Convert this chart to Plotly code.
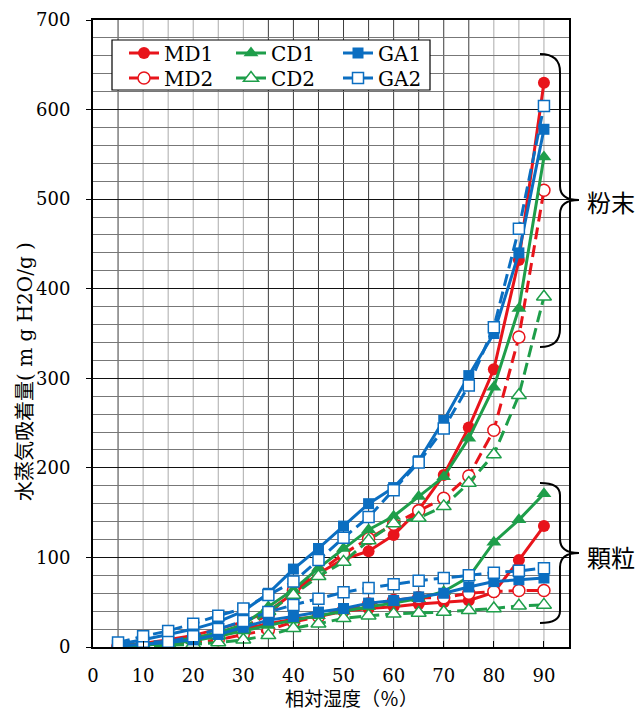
import plotly.graph_objects as go

# ---------------- data ----------------
rh = [5, 10, 15, 20, 25, 30, 35, 40, 45, 50, 55, 60, 65, 70, 75, 80, 85, 90]

# powder (粉末)
md1_powder = [2, 4, 8, 13, 20, 28, 40, 60, 82, 98, 107, 125, 153, 192, 245, 310, 432, 630]
md2_powder = [1, 3, 5, 9, 14, 22, 36, 63, 83, 104, 121, 137, 152, 166, 191, 242, 346, 510]
cd1_powder = [1, 3, 6, 10, 16, 25, 45, 64, 88, 110, 131, 146, 168, 190, 233, 290, 378, 547]
cd2_powder = [1, 2, 4, 8, 13, 20, 40, 58, 79, 95, 119, 138, 144, 157, 183, 215, 281, 391]
ga1_powder = [3, 8, 14, 20, 28, 40, 60, 87, 110, 135, 160, 178, 208, 253, 303, 350, 440, 578]
ga2_powder = [5, 12, 18, 26, 35, 43, 58, 73, 97, 122, 145, 175, 206, 244, 292, 357, 467, 604]

# granule (顆粒)
md1_granule = [1, 3, 5, 9, 14, 20, 26, 31, 34, 40, 43, 45, 48, 50, 52, 61, 97, 135]
md2_granule = [1, 2, 3, 5, 8, 14, 19, 28, 34, 41, 48, 52, 55, 55, 60, 62, 63, 63]
cd1_granule = [0, 2, 4, 7, 12, 18, 24, 30, 35, 40, 45, 49, 54, 62, 78, 117, 142, 171]
cd2_granule = [0, 1, 2, 3, 5, 8, 13, 21, 26, 32, 35, 37, 38, 39, 41, 43, 46, 47]
ga1_granule = [1, 3, 5, 8, 14, 22, 30, 34, 39, 43, 49, 52, 56, 60, 67, 73, 75, 77]
ga2_granule = [1, 6, 6, 12, 20, 29, 39, 47, 54, 61, 66, 70, 74, 77, 80, 83, 85, 88]

x_ticks = [0, 10, 20, 30, 40, 50, 60, 70, 80, 90]
y_ticks = [0, 100, 200, 300, 400, 500, 600, 700]

# ---------------- styling ----------------
RED, GREEN, BLUE = "#E8141B", "#1E9E4A", "#0B6EC1"
SERIF = "DejaVu Serif"
JP = "Noto Sans CJK JP"

series = [
    ("MD1", md1_powder, md1_granule, RED, "circle", "solid", True, 12, "legend"),
    ("MD2", md2_powder, md2_granule, RED, "circle", "12px,6px", False, 12, "legend2"),
    ("CD1", cd1_powder, cd1_granule, GREEN, "triangle-up", "solid", True, 13, "legend"),
    ("CD2", cd2_powder, cd2_granule, GREEN, "triangle-up", "12px,6px", False, 13, "legend2"),
    ("GA1", ga1_powder, ga1_granule, BLUE, "square", "solid", True, 11, "legend"),
    ("GA2", ga2_powder, ga2_granule, BLUE, "square", "12px,6px", False, 11, "legend2"),
]

fig = go.Figure()
for name, pw, gr, col, sym, dash, filled, msize, lg in series:
    marker = dict(symbol=sym, size=msize, color=col if filled else "white",
                  line=dict(color=col, width=0 if filled else 1.5))
    for i, ys in enumerate([gr, pw]):
        fig.add_trace(go.Scatter(
            x=rh, y=ys, mode="lines+markers", name=name,
            line=dict(color=col, width=3, dash=dash),
            marker=marker, legendgroup=name, showlegend=(i == 1), legend=lg,
        ))

# page offset (body margin) and plot frame in page pixels
OFF = 8
W, H = 644 - OFF, 712 - OFF
L, R, T, B = 93, 569, 20, 647
def px(v):
    return (v - L) / (R - L)
def py(v):
    return (B - v) / (B - T)

shapes = []
# vertical gridlines
for xv in range(5, 95, 5):
    dark = (xv == 5) or (35 <= xv <= 75)
    shapes.append(dict(type="line", xref="x", yref="y", x0=xv, x1=xv, y0=0, y1=700,
                       line=dict(color="#3c3c3c" if dark else "#ababab", width=1),
                       layer="below"))

# legend box
shapes.append(dict(type="rect", xref="paper", yref="paper",
                   x0=px(112), x1=px(430), y0=py(40), y1=py(90),
                   line=dict(color="black", width=1.2), fillcolor="white", layer="above"))

def brace(top, tip, bot, xe=540, xv=560, xt=579, r=18):
    pts = [
        f"M {px(xe)},{py(top)}",
        f"Q {px(xv)},{py(top)} {px(xv)},{py(top + r)}",
        f"L {px(xv)},{py(tip - 14)}",
        f"Q {px(xv)},{py(tip)} {px(xt)},{py(tip)}",
        f"Q {px(xv)},{py(tip)} {px(xv)},{py(tip + 14)}",
        f"L {px(xv)},{py(bot - r)}",
        f"Q {px(xv)},{py(bot)} {px(xe)},{py(bot)}",
    ]
    return dict(type="path", xref="paper", yref="paper", path=" ".join(pts),
                line=dict(color="black", width=2))

shapes.append(brace(54, 200, 347))
shapes.append(brace(483, 553, 623, r=12))

def note(text, x, y, size, angle=0, family=JP):
    return dict(text=text, x=px(x), y=py(y), xref="paper", yref="paper",
                xanchor="center", yanchor="middle", textangle=angle,
                showarrow=False, font=dict(family=family, size=size, color="black"))

annotations = [
    note("粉末", 611, 201, 24),
    note("顆粒", 611, 556, 24),
    note("相対湿度（％）", 351, 697, 19),
    note("水蒸気吸着量<span style='font-family:DejaVu Serif'>( m g H2O/g )</span>",
         23, 372, 20, angle=-90),
]

legend_common = dict(orientation="h", xanchor="left", yanchor="middle",
                     entrywidth=62, entrywidthmode="pixels",
                     font=dict(family=SERIF, size=20, color="black"),
                     bgcolor="rgba(0,0,0,0)", borderwidth=0, itemwidth=30)

fig.update_layout(
    width=W, height=H,
    margin=dict(l=L - OFF, r=644 - R, t=T - OFF, b=712 - B, autoexpand=False),
    paper_bgcolor="white", plot_bgcolor="white",
    shapes=shapes, annotations=annotations,
    legend=dict(x=px(124), y=py(53), **legend_common),
    legend2=dict(x=px(124), y=py(78), **legend_common),
    xaxis=dict(range=[0, 95], tickvals=x_ticks, showgrid=False, zeroline=False,
               showline=True, mirror=True, linecolor="black", linewidth=2,
               ticks="inside", ticklen=6, tickcolor="black",
               tickfont=dict(family=SERIF, size=18, color="black"),
               ticklabelstandoff=11),
    yaxis=dict(range=[0, 700], tickvals=y_ticks, showgrid=True, gridcolor="#111111",
               gridwidth=1, zeroline=False,
               showline=True, mirror=True, linecolor="black", linewidth=2,
               ticks="outside", ticklen=5, tickcolor="black",
               tickfont=dict(family=SERIF, size=18, color="black"),
               ticklabelstandoff=12,
               minor=dict(dtick=20, showgrid=True, gridcolor="#777777", gridwidth=1)),
)

fig.write_html("out.html")
